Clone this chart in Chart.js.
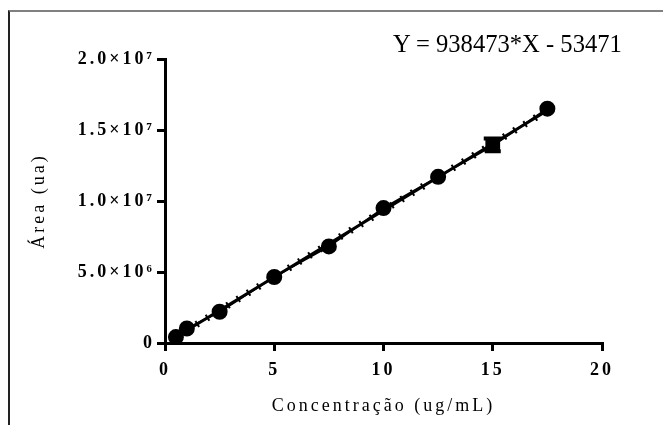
<!DOCTYPE html>
<html>
<head>
<meta charset="utf-8">
<script src="https://cdn.jsdelivr.net/npm/chart.js@4/dist/chart.umd.min.js"></script>
<style>
    html, body { margin: 0; padding: 0; background: #fff; }
    #wrap { position: relative; width: 663px; height: 425px; overflow: hidden; }
    #frame {
        position: absolute; left: 8px; top: 10px; right: -4px; bottom: -4px;
        border-top: 2px solid #808080; border-left: 2px solid #222;
    }
    #equation {
        position: absolute; left: 393px; top: 30px;
        font-family: "Liberation Serif", serif; font-size: 24.6px; color: #000;
        white-space: nowrap;
    }
    canvas { position: absolute; left: 0; top: 0; }
</style>
</head>
<body>
<div id="wrap">
    <div id="frame"></div>
    <canvas id="myChart" width="663" height="425"></canvas>
    <div id="equation">Y = 938473*X - 53471</div>
</div>
<script>
// measured data points
const concentrations = [0.5, 1, 2.5, 5, 7.5, 10, 12.5, 15, 17.5];
const areas = [4.2e5, 1.02e6, 2.2e6, 4.65e6, 6.8e6, 9.5e6, 1.17e7, 1.39e7, 1.65e7];
const pointShapes = ['circle', 'circle', 'circle', 'circle', 'circle', 'circle', 'circle', 'rect', 'circle'];

// error bar at the 15 ug/mL point
const errX = [15];
const errLow = [1.35e7];
const errHigh = [1.44e7];

// fitted line ends
const fitX = [0.5, 17.5];
const fitY = [4.2e5, 1.637e7];

const xTicks = [0, 5, 10, 15, 20];
const yTickLabels = ['0', '5.0×10⁶', '1.0×10⁷', '1.5×10⁷', '2.0×10⁷'];

const serif = '"Liberation Serif", "Times New Roman", serif';

const spacing = {
    id: 'spacing',
    beforeLayout(chart) { chart.ctx.letterSpacing = '3px'; },
    beforeDraw(chart) { chart.ctx.letterSpacing = '3px'; }
};

const errorBars = {
    id: 'errorBars',
    afterDatasetsDraw(chart) {
        const ctx = chart.ctx;
        const xs = chart.scales.x;
        const ys = chart.scales.y;
        ctx.save();
        ctx.strokeStyle = '#000';
        ctx.lineWidth = 4;
        errX.forEach((v, i) => {
            const px = xs.getPixelForValue(v);
            const top = ys.getPixelForValue(errHigh[i]);
            const bot = ys.getPixelForValue(errLow[i]);
            ctx.beginPath();
            ctx.moveTo(px, top);
            ctx.lineTo(px, bot);
            ctx.moveTo(px - 9, top);
            ctx.lineTo(px + 9, top);
            ctx.moveTo(px - 8, bot);
            ctx.lineTo(px + 8, bot);
            ctx.stroke();
        });
        ctx.restore();
    }
};

function loadChart()
{
    const chartData = {
        datasets: [
            {
                label: 'ajuste',
                data: fitX.map((x, i) => ({x: x, y: fitY[i]})),
                showLine: true,
                borderColor: '#000',
                borderWidth: 3,
                pointRadius: 0,
                order: 3,
            },
            {
                label: 'marcas',
                data: fitX.map((x, i) => ({x: x, y: fitY[i]})),
                showLine: true,
                borderColor: '#000',
                borderWidth: 7,
                borderDash: [2, 10],
                pointRadius: 0,
                order: 2,
            },
            {
                label: 'Área',
                data: concentrations.map((x, i) => ({x: x, y: areas[i]})),
                showLine: true,
                borderColor: '#000',
                borderWidth: 2,
                backgroundColor: '#000',
                pointBackgroundColor: '#000',
                pointBorderColor: '#000',
                pointStyle: pointShapes,
                pointRadius: (c) => pointShapes[c.dataIndex] === 'rect' ? 9 : 7,
                order: 1,
            }]
    };

    const config = {
        type: 'scatter',
        data: chartData,
        plugins: [spacing, errorBars],
        options: {
            responsive: false,
            animation: false,
            layout: {
                padding: {left: 28, right: 61, top: 59, bottom: 8}
            },
            plugins: {
                legend: {display: false},
                tooltip: {enabled: false}
            },
            scales: {
                x: {
                    type: 'linear',
                    min: 0,
                    max: 20,
                    afterBuildTicks: (scale) => { scale.ticks = xTicks.map(v => ({value: v})); },
                    afterFit: (scale) => { scale.height = 74; },
                    border: {display: true, color: '#000', width: 3},
                    grid: {display: true, drawOnChartArea: false, drawTicks: true, tickLength: 8, color: '#000', lineWidth: 3},
                    ticks: {
                        color: '#000',
                        padding: 9,
                        maxRotation: 0,
                        font: {family: serif, size: 18, weight: 'bold'}
                    },
                    title: {
                        display: true,
                        text: 'Concentração (ug/mL)',
                        color: '#000',
                        padding: {top: 1, bottom: 0},
                        font: {family: serif, size: 18}
                    }
                },
                y: {
                    type: 'linear',
                    min: 0,
                    max: 2e7,
                    afterBuildTicks: (scale) => { scale.ticks = yTickLabels.map((t, i) => ({value: i * 5e6})); },
                    afterFit: (scale) => { scale.width = 137; },
                    border: {display: true, color: '#000', width: 3},
                    grid: {display: true, drawOnChartArea: false, drawTicks: true, tickLength: 8, color: '#000', lineWidth: 3},
                    ticks: {
                        color: '#000',
                        padding: 2,
                        font: {family: serif, size: 18, weight: 'bold'},
                        callback: (value, index) => yTickLabels[index]
                    },
                    title: {
                        display: true,
                        text: 'Área (ua)',
                        color: '#000',
                        padding: {top: 0, bottom: 0},
                        font: {family: serif, size: 18}
                    }
                }
            }
        }
    };

    const ctx = document.getElementById('myChart').getContext('2d');

    if (ctx) {
        new Chart(ctx, config);
    }
}

loadChart();
</script>
</body>
</html>
